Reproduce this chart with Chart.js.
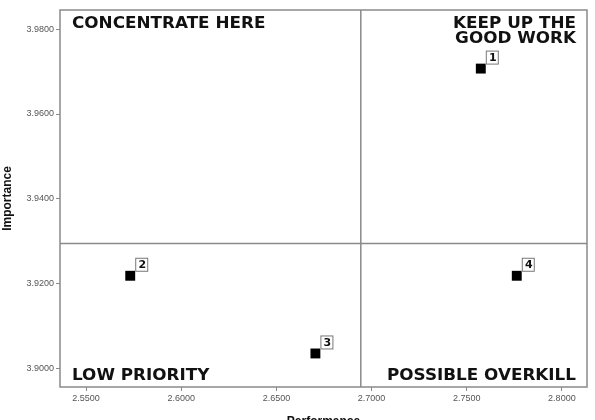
<!DOCTYPE html>
<html>
<head>
<meta charset="utf-8">
<script src="https://cdn.jsdelivr.net/npm/chart.js@4/dist/chart.umd.min.js"></script>
<style>
  html, body { margin: 0; padding: 0; background: #fff; }
  canvas { display: block; }
</style>
</head>
<body>
<canvas id="quadChart" width="595" height="420"></canvas>
<script>
// ── Data ───────────────────────────────────────────────────────────────
const pointLabels = ['1', '2', '3', '4'];
const performance = [2.7574, 2.5732, 2.6705, 2.7763];
const importance  = [3.9707, 3.9219, 3.9036, 3.9219];
const xTicks = [2.55, 2.60, 2.65, 2.70, 2.75, 2.80];
const yTicks = [3.90, 3.92, 3.94, 3.96, 3.98];
const xRange = [2.5363, 2.8132];
const yRange = [3.8957, 3.9845];
const quadrantTitles = {
    topLeft: ['CONCENTRATE HERE'],
    topRight: ['KEEP UP THE', 'GOOD WORK'],
    bottomLeft: ['LOW PRIORITY'],
    bottomRight: ['POSSIBLE OVERKILL']
};

// means define the cross lines
const mean = arr => arr.reduce((a, b) => a + b, 0) / arr.length;
const xMean = mean(performance);
const yMean = mean(importance);

const AXIS_GREY = '#8a8a8a';
const QUAD_FONT = 'bold 15px "DejaVu Sans", sans-serif';
const STRETCH = 1.12; // reference lettering is wider than DejaVu bold

// draw text stretched horizontally, anchored left or right
function wideText(ctx, text, x, y, align) {
    ctx.save();
    ctx.translate(x, y);
    ctx.scale(STRETCH, 1);
    ctx.textAlign = align;
    ctx.fillText(text, 0, 0);
    ctx.restore();
}

// ── Quadrant plugin: frame, cross lines, titles, number boxes ─────────
const quadrantPlugin = {
    id: 'quadrants',
    beforeDatasetsDraw(chart) {
        const { ctx, chartArea: a, scales: { x, y } } = chart;
        ctx.save();
        ctx.strokeStyle = AXIS_GREY;
        ctx.lineWidth = 1.5;
        ctx.strokeRect(a.left, a.top, a.right - a.left, a.bottom - a.top);

        const cx = x.getPixelForValue(xMean);
        const cy = y.getPixelForValue(yMean);
        ctx.beginPath();
        ctx.moveTo(cx, a.top); ctx.lineTo(cx, a.bottom);
        ctx.moveTo(a.left, cy); ctx.lineTo(a.right, cy);
        ctx.stroke();

        ctx.fillStyle = '#111';
        ctx.font = QUAD_FONT;
        ctx.textBaseline = 'alphabetic';
        const lh = 15;
        const bl = quadrantTitles.bottomLeft, br = quadrantTitles.bottomRight;
        quadrantTitles.topLeft.forEach((t, i) => wideText(ctx, t, a.left + 12, a.top + 18 + i * lh, 'left'));
        bl.forEach((t, i) => wideText(ctx, t, a.left + 12, a.bottom - 7 - (bl.length - 1 - i) * lh, 'left'));
        quadrantTitles.topRight.forEach((t, i) => wideText(ctx, t, a.right - 11, a.top + 18 + i * lh, 'right'));
        br.forEach((t, i) => wideText(ctx, t, a.right - 11, a.bottom - 7 - (br.length - 1 - i) * lh, 'right'));
        ctx.restore();
    },
    afterDatasetsDraw(chart) {
        const { ctx } = chart;
        const meta = chart.getDatasetMeta(0);
        ctx.save();
        ctx.font = 'bold 11px "DejaVu Sans", sans-serif';
        ctx.textAlign = 'center';
        ctx.textBaseline = 'middle';
        meta.data.forEach((pt, i) => {
            const bx = pt.x + 5, by = pt.y - 18;
            ctx.fillStyle = '#fff';
            ctx.fillRect(bx, by, 13, 14);
            ctx.strokeStyle = '#777';
            ctx.lineWidth = 1;
            ctx.strokeRect(bx + 0.5, by + 0.5, 12, 13);
            ctx.fillStyle = '#111';
            ctx.fillText(pointLabels[i], bx + 7, by + 7.5);
        });
        ctx.restore();
    }
};

const tickFont = { family: '"Liberation Sans", Arial, sans-serif', size: 9 };

new Chart(document.getElementById('quadChart'), {
    type: 'scatter',
    data: {
        datasets: [{
            label: 'Items',
            data: performance.map((v, i) => ({ x: v, y: importance[i] })),
            pointStyle: 'rect',
            pointRadius: 7,
            pointHoverRadius: 7,
            backgroundColor: '#000',
            borderColor: '#000',
            borderWidth: 0
        }]
    },
    options: {
        responsive: false,
        animation: false,
        layout: { padding: { left: 0, top: 10, right: 8, bottom: 0 } },
        plugins: { legend: { display: false }, tooltip: { enabled: false } },
        scales: {
            x: {
                type: 'linear',
                min: xRange[0],
                max: xRange[1],
                afterBuildTicks: s => { s.ticks = xTicks.map(v => ({ value: v })); },
                afterFit: s => { s.height = 33; },
                border: { display: false },
                grid: { drawOnChartArea: false, tickLength: 4, color: AXIS_GREY, lineWidth: 1 },
                ticks: { color: '#555', font: tickFont, padding: 2, maxRotation: 0, callback: v => v.toFixed(4) },
                title: { display: true, text: 'Performance', color: '#111', font: { family: '"Liberation Sans", Arial, sans-serif', size: 12, weight: 'bold' }, padding: { top: 0, bottom: -9 } }
            },
            y: {
                type: 'linear',
                min: yRange[0],
                max: yRange[1],
                afterBuildTicks: s => { s.ticks = yTicks.map(v => ({ value: v })); },
                afterFit: s => { s.width = 60; },
                border: { display: false },
                grid: { drawOnChartArea: false, tickLength: 4, color: AXIS_GREY, lineWidth: 1 },
                ticks: { color: '#555', font: tickFont, padding: 2, callback: v => v.toFixed(4) },
                title: { display: true, text: 'Importance', color: '#111', font: { family: '"Liberation Sans", Arial, sans-serif', size: 12, weight: 'bold' }, padding: { top: 0, bottom: 0 } }
            }
        }
    },
    plugins: [quadrantPlugin]
});
</script>
</body>
</html>
